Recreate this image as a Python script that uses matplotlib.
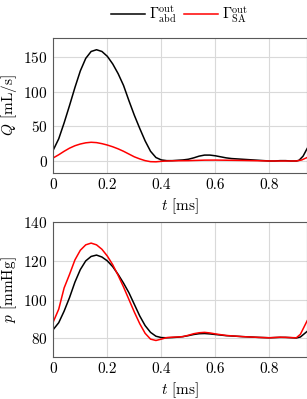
import numpy as np
import matplotlib
matplotlib.use('Agg')
import matplotlib.pyplot as plt

plt.rcParams['font.family'] = 'serif'
plt.rcParams['font.serif'] = ['cmr10', 'DejaVu Serif']
plt.rcParams['mathtext.fontset'] = 'cm'
plt.rcParams['axes.formatter.use_mathtext'] = True
plt.rcParams['font.size'] = 11

# Flow rate Q [mL/s]
t_q_abd = [0, 0.02, 0.04, 0.06, 0.08, 0.10, 0.12, 0.14, 0.16, 0.18, 0.20, 0.22, 0.24,
           0.26, 0.28, 0.30, 0.32, 0.34, 0.36, 0.38, 0.40, 0.42, 0.44, 0.46, 0.48, 0.50,
           0.52, 0.54, 0.56, 0.58, 0.60, 0.62, 0.64, 0.66, 0.68, 0.70, 0.72, 0.74, 0.76,
           0.78, 0.80, 0.82, 0.84, 0.86, 0.88, 0.90, 0.91, 0.925, 0.94]
q_abd = [16, 32, 55, 80, 106, 130, 148, 158, 160.5, 158, 151, 140, 126,
         109, 87, 66, 47, 29, 14, 5, 1.5, 0.5, 0.5, 1, 1.5, 2.5,
         4.5, 7, 8.5, 8.5, 7.5, 6, 4.5, 3.5, 3, 2.5, 2, 1.5, 1,
         0.5, 0, 0, 0.5, 0.5, 0, 0, 1, 7, 18]

t_q_sa = [0, 0.02, 0.04, 0.06, 0.08, 0.10, 0.12, 0.14, 0.16, 0.18, 0.20, 0.22, 0.24,
          0.26, 0.28, 0.30, 0.32, 0.34, 0.36, 0.38, 0.40, 0.42, 0.44, 0.50, 0.56, 0.60,
          0.70, 0.80, 0.90, 0.92, 0.94]
q_sa = [4.5, 9, 14, 18.5, 22, 24.5, 26.2, 27, 26.5, 25, 23, 20.5, 17.5,
        14, 10, 6, 3, 0.5, -1, -1.2, -0.5, 0, 0.3, 0.5, 1.2, 1.3,
        0.8, 0, 0, 1.5, 5]

# Pressure p [mmHg]
t_p = [0, 0.02, 0.04, 0.06, 0.08, 0.10, 0.12, 0.14, 0.16, 0.18, 0.20, 0.22, 0.24,
       0.26, 0.28, 0.30, 0.32, 0.34, 0.36, 0.38, 0.40, 0.42, 0.44, 0.46, 0.48, 0.50,
       0.52, 0.54, 0.56, 0.58, 0.60, 0.64, 0.70, 0.76, 0.80, 0.84, 0.86, 0.90, 0.915,
       0.94]
p_abd = [84.5, 88, 94, 101, 109, 115.5, 120, 122.3, 123, 122, 120, 117, 113,
         108.5, 103.5, 97.5, 91.5, 86.5, 83, 81, 80.3, 80.2, 80.3, 80.5, 80.8, 81.3,
         81.9, 82.3, 82.4, 82.2, 81.9, 81.3, 80.8, 80.4, 80.2, 80.4, 80.4, 80.1, 80.6,
         83.5]
p_sa = [88.5, 95, 106, 113, 120.5, 125.5, 128.3, 129.2, 128.3, 126, 122.5, 118, 112.5,
        106.5, 100, 93.5, 87.5, 82.5, 79.5, 78.8, 79.5, 80.3, 80.5, 80.6, 80.8, 81.5,
        82.3, 82.8, 83, 82.7, 82.2, 81.4, 80.8, 80.4, 80.2, 80.5, 80.4, 80.2, 82,
        89]

fig = plt.figure(figsize=(3.07, 3.99), dpi=100)
ax1 = fig.add_axes([0.1737, 0.567, 0.825, 0.337])
ax2 = fig.add_axes([0.1737, 0.106, 0.825, 0.337])

for ax in (ax1, ax2):
    ax.grid(True, color='0.85', linewidth=0.8)
    ax.set_axisbelow(True)
    ax.tick_params(length=0, pad=4, labelsize=11)
    for s in ax.spines.values():
        s.set_color('0.35')
        s.set_linewidth(0.8)
    ax.set_xlim(0, 0.938)
    ax.set_xticks([0, 0.2, 0.4, 0.6, 0.8])
    ax.set_xticklabels(['0', '0.2', '0.4', '0.6', '0.8'])
    ax.set_xlabel(r'$t$ [ms]', labelpad=3)

l1, = ax1.plot(t_q_abd, q_abd, color='black', lw=1.1)
l2, = ax1.plot(t_q_sa, q_sa, color='red', lw=1.1)
ax1.set_ylim(-17, 177)
ax1.set_yticks([0, 50, 100, 150])
ax1.set_ylabel(r'$Q$ [mL/s]', labelpad=3)

ax2.plot(t_p, p_abd, color='black', lw=1.1)
ax2.plot(t_p, p_sa, color='red', lw=1.1)
ax2.set_ylim(70.4, 140)
ax2.set_yticks([80, 100, 120, 140])
ax2.set_ylabel(r'$p$ [mmHg]', labelpad=3)

fig.legend([l1, l2], [r'$\Gamma^{\mathrm{out}}_{\mathrm{abd}}$', r'$\Gamma^{\mathrm{out}}_{\mathrm{SA}}$'],
           loc='center', bbox_to_anchor=(0.585, 0.965), ncol=2, frameon=False,
           handlelength=2.3, handletextpad=0.3, columnspacing=0.5, fontsize=10.5)

fig.savefig('out.png', dpi=100)
